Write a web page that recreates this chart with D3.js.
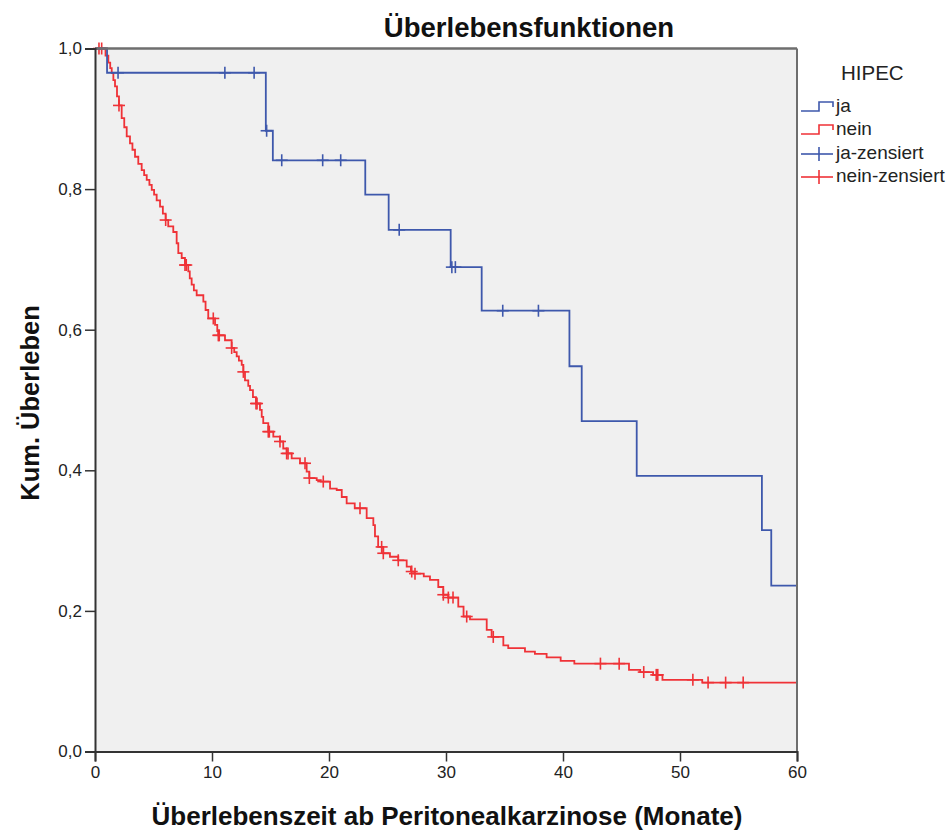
<!DOCTYPE html>
<html>
<head>
<meta charset="utf-8">
<script src="https://cdn.jsdelivr.net/npm/d3@7"></script>
<style>
  html, body { margin: 0; padding: 0; background: #ffffff; }
  svg { display: block; font-family: "Liberation Sans", Arial, sans-serif; }
</style>
</head>
<body>
<svg id="chart" width="949" height="831"></svg>
<script>
// Kaplan-Meier estimates: time of each event (months) and survival after it
const blueTime = [1.03, 14.6, 15.2, 23.1, 25.1, 30.4, 33.05, 40.55, 41.6, 46.3, 57.0, 57.8];
const blueSurv = [0.9655, 0.883, 0.841, 0.792, 0.742, 0.689, 0.627, 0.548, 0.470, 0.392, 0.315, 0.236];
const blueCensor = [1.97, 11.1, 13.6, 14.67, 15.96, 19.46, 21.0, 26.0, 30.5, 30.8, 34.85, 37.9];

const redTime = [0.90, 1.14, 1.30, 1.43, 1.57, 1.71, 1.88, 2.05, 2.28, 2.50, 2.71, 2.99, 3.20, 3.42, 3.70,
  3.99, 4.20, 4.42, 4.65, 4.85, 5.05, 5.27, 5.56, 5.80, 6.04, 6.26, 6.69, 6.98, 7.12, 7.41, 7.69, 7.97,
  8.10, 8.26, 8.45, 8.69, 9.26, 9.45, 9.68, 10.26, 10.45, 10.54, 11.11, 11.68, 11.90, 12.11, 12.30, 12.54,
  12.68, 12.82, 13.10, 13.25, 13.50, 13.76, 14.10, 14.25, 14.38, 14.81, 15.24, 15.81, 16.09, 16.38, 16.81,
  17.52, 18.09, 18.32, 18.95, 19.30, 20.09, 20.66, 21.09, 21.51, 22.20, 23.22, 23.79, 23.93, 24.20, 24.64,
  25.21, 25.92, 26.64, 27.00, 27.30, 28.10, 28.63, 29.34, 29.77, 30.20, 31.05, 31.50, 32.05, 33.48, 33.90,
  34.90, 35.32, 36.75, 37.60, 38.60, 39.80, 40.97, 45.64, 46.60, 47.70, 48.50, 51.90];
const redSurv = [0.990, 0.980, 0.972, 0.965, 0.955, 0.946, 0.932, 0.919, 0.901, 0.888, 0.875, 0.865, 0.856, 0.846, 0.836,
  0.827, 0.820, 0.813, 0.806, 0.799, 0.792, 0.784, 0.775, 0.765, 0.756, 0.747, 0.739, 0.723, 0.709, 0.702, 0.692, 0.683,
  0.673, 0.664, 0.656, 0.649, 0.640, 0.628, 0.616, 0.607, 0.598, 0.592, 0.585, 0.574, 0.568, 0.562, 0.556, 0.550,
  0.540, 0.528, 0.520, 0.514, 0.504, 0.495, 0.486, 0.476, 0.467, 0.455, 0.448, 0.441, 0.431, 0.424, 0.417,
  0.410, 0.398, 0.389, 0.386, 0.384, 0.374, 0.372, 0.362, 0.353, 0.346, 0.332, 0.322, 0.306, 0.291, 0.282,
  0.277, 0.272, 0.263, 0.256, 0.253, 0.249, 0.244, 0.234, 0.223, 0.219, 0.206, 0.192, 0.188, 0.173, 0.163,
  0.151, 0.147, 0.142, 0.139, 0.134, 0.129, 0.125, 0.116, 0.113, 0.109, 0.102, 0.098];
const redCensor = [0.34, 0.57, 2.05, 6.04, 7.69, 7.8, 10.11, 10.54, 10.62, 11.68, 12.68, 13.76, 13.85, 14.81, 14.9,
  15.81, 16.38, 16.5, 17.95, 18.32, 19.51, 22.65, 24.5, 24.64, 25.92, 27.07, 27.35, 29.77, 30.2, 30.6, 31.77,
  34.04, 43.2, 44.8, 46.9, 47.97, 48.1, 51.1, 52.4, 53.9, 55.4];

const xTicks = [0, 10, 20, 30, 40, 50, 60];
const yTicks = [0, 0.2, 0.4, 0.6, 0.8, 1.0];
const legendLabels = ["ja", "nein", "ja-zensiert", "nein-zensiert"];
const tMax = 60;

const blueColor = "#3e58ac";
const redColor = "#ef3237";

const svg = d3.select("#chart");
const m = { left: 95, right: 797, top: 48.5, bottom: 751.5 };

const x = d3.scaleLinear().domain([0, 60]).range([m.left, m.right]);
const y = d3.scaleLinear().domain([0, 1]).range([m.bottom, m.top]);

const de = d3.formatLocale({ decimal: ",", thousands: ".", grouping: [3], currency: ["", " €"] });
const fmtY = de.format(".1f");

// plot background
svg.append("rect")
  .attr("x", m.left).attr("y", m.top)
  .attr("width", m.right - m.left).attr("height", m.bottom - m.top)
  .attr("fill", "#f0f0f0");

// build step series: start at 1 at t=0, then each event, then extend to tMax
function steps(times, surv) {
  const pts = [[0, 1]];
  times.forEach((t, i) => pts.push([t, surv[i]]));
  pts.push([tMax, surv[surv.length - 1]]);
  return pts;
}
function survAt(times, surv, t) {
  let v = 1;
  for (let i = 0; i < times.length; i++) { if (times[i] <= t) v = surv[i]; }
  return v;
}

const line = d3.line().x(d => x(d[0])).y(d => y(d[1])).curve(d3.curveStepAfter);

const plot = svg.append("g");
const series = [
  { times: redTime, surv: redSurv, cens: redCensor, color: redColor },
  { times: blueTime, surv: blueSurv, cens: blueCensor, color: blueColor }
];
series.forEach(s => {
  plot.append("path")
    .datum(steps(s.times, s.surv))
    .attr("d", line)
    .attr("fill", "none")
    .attr("stroke", s.color)
    .attr("stroke-width", 1.8);
  const g = plot.append("g").attr("stroke", s.color).attr("stroke-width", 1.6);
  s.cens.forEach(t => {
    const cx = x(t), cy = y(survAt(s.times, s.surv, t));
    g.append("line").attr("x1", cx - 6).attr("x2", cx + 6).attr("y1", cy).attr("y2", cy);
    g.append("line").attr("x1", cx).attr("x2", cx).attr("y1", cy - 6).attr("y2", cy + 6);
  });
});

// frame: top and right borders
svg.append("line").attr("x1", m.left).attr("x2", m.right).attr("y1", m.top).attr("y2", m.top)
  .attr("stroke", "#6e6e6e").attr("stroke-width", 2.5);
svg.append("line").attr("x1", m.right).attr("x2", m.right).attr("y1", m.top).attr("y2", m.bottom)
  .attr("stroke", "#6e6e6e").attr("stroke-width", 2);

// axes
const xAxis = d3.axisBottom(x).tickValues(xTicks).tickSize(10).tickPadding(4).tickFormat(d3.format("d"));
const yAxis = d3.axisLeft(y).tickValues(yTicks).tickSize(10).tickPadding(3).tickFormat(fmtY);

const gx = svg.append("g").attr("transform", `translate(0,${m.bottom})`).call(xAxis);
const gy = svg.append("g").attr("transform", `translate(${m.left},0)`).call(yAxis);
[gx, gy].forEach(g => {
  g.select(".domain").attr("stroke", "#333").attr("stroke-width", 2);
  g.selectAll(".tick line").attr("stroke", "#333").attr("stroke-width", 1.5);
  g.selectAll(".tick text").attr("fill", "#222").style("font-size", "17px")
    .style("font-family", "'Liberation Sans', Arial, sans-serif");
});

// titles
svg.append("text").attr("x", 529).attr("y", 37).attr("text-anchor", "middle")
  .style("font-size", "27.5px").style("font-weight", "bold").attr("fill", "#111")
  .text("Überlebensfunktionen");
svg.append("text").attr("x", 447).attr("y", 825).attr("text-anchor", "middle")
  .style("font-size", "26px").style("font-weight", "bold").attr("fill", "#111")
  .text("Überlebenszeit ab Peritonealkarzinose (Monate)");
svg.append("text").attr("transform", "translate(39,403) rotate(-90)").attr("text-anchor", "middle")
  .style("font-size", "25.5px").style("font-weight", "bold").attr("fill", "#111")
  .text("Kum. Überleben");

// legend
const lg = svg.append("g");
lg.append("text").attr("x", 841).attr("y", 80).style("font-size", "20.5px").attr("fill", "#222").text("HIPEC");
const legendY = [112, 135, 159, 182];
const legendColors = [blueColor, redColor, blueColor, redColor];
legendLabels.forEach((lab, i) => {
  const yy = legendY[i];
  const c = legendColors[i];
  if (i < 2) {
    lg.append("path")
      .attr("d", `M801,${yy - 1}H819V${yy - 10}H833V${yy - 5}`)
      .attr("fill", "none").attr("stroke", c).attr("stroke-width", 1.6);
  } else {
    const cy = yy - 5;
    lg.append("line").attr("x1", 801).attr("x2", 833).attr("y1", cy).attr("y2", cy)
      .attr("stroke", c).attr("stroke-width", 1.6);
    lg.append("line").attr("x1", 819).attr("x2", 819).attr("y1", cy - 7).attr("y2", cy + 7)
      .attr("stroke", c).attr("stroke-width", 1.6);
  }
  lg.append("text").attr("x", 836).attr("y", yy).style("font-size", "19px").attr("fill", "#222").text(lab);
});
</script>
</body>
</html>
